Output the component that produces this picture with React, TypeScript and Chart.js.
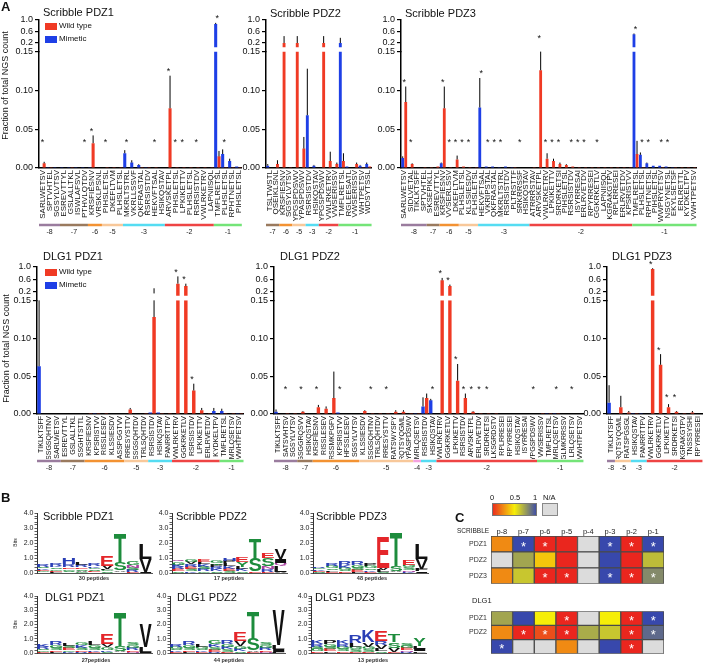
import React, { useEffect, useRef } from 'react';
import { Chart, registerables } from 'chart.js';

Chart.register(...registerables);

const FONT = '"Liberation Sans", Arial, Helvetica, sans-serif';
Chart.defaults.font.family = FONT;
Chart.defaults.color = '#111';

const RED = '#f03a24';
const BLUE = '#1e3fe6';

const GROUP_COLORS: Record<string, string> = {
  '-8': '#9a7c9e', '-7': '#9a7a5e', '-6': '#f39232', '-5': '#f8c89a',
  '-4': '#f4a2e0', '-3': '#55dcf2', '-2': '#ee4444', '-1': '#74e478',
};

const Y_TICKS_LOW = [0, 0.05, 0.1, 0.15];
const Y_TICKS_HIGH = [0.2, 0.6, 1.0];
const LOW_MAX = 0.15;
const HIGH_MIN = -0.1;
const HIGH_BAR_START = 0.05;

// ---------------- Panel A : Scribble PDZ1 ----------------
const SP1_LABELS = ['SARLWETSV','SPTVHTEL','SGSYLVTSV','ESREVTTYL','GSLALLTKL','ISWLAFSVL','PTHVLQTDV','KRSFIESNV','VRSKLPSNL','PIHSLETSL','DKEFLTVM','PLHSLETSL','MKRLTSTRL','VKRLLSSVF','QKFRASTAL','RSRSISTDV','HEKVFTSAL','HSIKQSTAV','ARVSKETPL','PIHSLETSL','LPKIKETTV','PLHSLETSL','RSRSISTDV','VWLRKETRV','LAPNIISQL','TMFLRETSL','PLHSLETSL','RPHTNETSL','PIHSLETSL'];
const SP1_WT = [0.006,0.001,0,0,0.001,0,0,0.032,0,0.001,0.001,0.001,0,0,0.001,0.001,0.001,0,0.077,0.001,0.001,0.001,0.001,0.001,0.001,0.015,0.001,0.001,0.001];
const SP1_WT_ERR = [0.002,0,0,0,0,0,0,0.01,0,0,0,0,0,0,0,0,0,0,0.042,0,0,0,0,0,0,0.007,0,0,0];
const SP1_MIM = [0,0.001,0.001,0.001,0.001,0.001,0.001,0.001,0,0,0,0,0.019,0.007,0.004,0.001,0,0,0,0,0,0,0,0,0,0.86,0.018,0.009,0.002];
const SP1_MIM_ERR = [0,0,0,0,0,0,0,0,0,0,0,0,0.004,0.003,0.001,0,0,0,0,0,0,0,0,0,0,0.04,0.006,0.003,0];
const SP1_STARS = [0,6,7,9,12,16,18,19,20,22,25,26];
const SP1_GROUPS: [string, number, number][] = [['-8',0,2],['-7',3,6],['-6',7,8],['-5',9,11],['-3',12,17],['-2',18,24],['-1',25,28]];

// ---------------- Panel A : Scribble PDZ2 ----------------
const SP2_LABELS = ['TSLTWSTL','QSEIKLSNL','KRSFIESNV','SGSYLVTSV','YPGSPDSWV','YPASPDSWV','RSRSISTDV','HSIKQSTAV','YPGSPDSWV','VWLRKETRV','VWSERISSV','TMFLRETSL','RGLEESATL','VWSERISSV','WHTPETSV','WDSYTSSL'];
const SP2_WT = [0,0.005,0.2,0.001,0.2,0.025,0,0,0.2,0.009,0.005,0.009,0,0.005,0.001,0.002];
const SP2_WT_ERR = [0,0.005,0.24,0,0.24,0.015,0,0,0.24,0.012,0.002,0.01,0,0.002,0,0];
const SP2_MIM = [0.003,0,0,0,0,0,0.068,0.003,0,0,0,0.2,0.002,0,0.003,0.005];
const SP2_MIM_ERR = [0.002,0,0,0,0,0,0.06,0.001,0,0,0,0.18,0,0,0.001,0.002];
const SP2_STARS: number[] = [];
const SP2_GROUPS: [string, number, number][] = [['-7',0,1],['-6',2,3],['-5',4,5],['-3',6,7],['-2',8,10],['-1',11,15]];

// ---------------- Panel A : Scribble PDZ3 ----------------
const SP3_LABELS = ['SARLWETSV','SIDLVETAL','TIKLKTSFF','SPTVHTEL','SKSEPIKLL','ESREVTTYL','KRSFIESNV','VVSERLSSV','DKEFLTVM','PLHSLETSL','KLSSIESDV','PLHSLETSL','HEKVFTSAL','VKRIPSTAL','QKFRASTAL','MKRLTSTRL','RSRSISTDV','PLTRSTTF','SRKRRSSF','HSIKQSTAV','ATRRRSTAV','ARVSKETPL','VWLRKETRV','LPKIKETTV','SRDRKETSI','PIHSLETSL','RSRSISTDV','ISYRRESAI','ERLRVETDV','RPYRRESEI','GGKRKETLV','LAPNIISQL','KGRAKGTPV','RPLRRESEI','ERLRVETDV','KPSRISTVV','TMFLRETSL','PLHSLETSL','RPHTNETSL','PIHSLETSL','WWPRYETSV','NSGYNETSL','EKYLSETSF','ERLRETTL','KYDKELTPV','VWHTPETSV'];
const SP3_WT = [0.085,0.005,0,0.001,0.001,0.002,0.077,0.001,0.011,0.002, 0.001,0.001,0,0,0,0,0,0.001,0,0, 0.001,0.126,0.012,0.009,0.005,0.004,0.002,0.001,0.001,0.001, 0.001,0.001,0.001,0.001,0.001,0.001,0.018,0.001,0,0, 0.001,0,0.001,0.001,0.001,0.001];
const SP3_WT_ERR = [0.02,0.001,0,0,0,0,0.028,0,0.005,0, 0,0,0,0,0,0,0,0,0,0, 0,0.025,0.007,0.003,0.002,0.001,0,0,0,0, 0,0,0,0,0,0,0.017,0,0,0, 0,0,0,0,0,0];
const SP3_MIM = [0.013,0,0,0,0,0,0.006,0,0,0, 0,0,0.078,0.002,0.002,0.001,0.002,0.001,0,0, 0,0,0,0,0,0,0,0,0,0, 0,0,0,0,0,0,0.5,0.017,0.006,0.003, 0.003,0.002,0.001,0,0,0];
const SP3_MIM_ERR = [0.002,0,0,0,0,0,0.001,0,0,0, 0,0,0.038,0,0,0,0,0,0,0, 0,0,0,0,0,0,0,0,0,0, 0,0,0,0,0,0,0.03,0.003,0.001,0, 0,0,0,0,0,0];
const SP3_STARS = [0,1,6,7,8,9,10,12,13,14,15,18,21,22,23,24,26,27,28,30,36,37,38,40,41];
const SP3_GROUPS: [string, number, number][] = [['-8',0,3],['-7',4,5],['-6',6,8],['-5',9,11],['-3',12,19],['-2',20,35],['-1',36,45]];

// ---------------- Panel A : DLG1 PDZ1 ----------------
const DP1_LABELS = ['TIKLKTSFF','SSGSQHTNV','SARLWETSV','ESREVTTYL','GSLALLTKL','SSGHTSTTL','KRSFIESNV','KPSRISTVV','RISSLESEV','KLSSIESDV','ASSPGGTVV','RRESYSTTV','SSGSQHTDV','TRLSQHTDV','RSRSISTDV','HSIKQSTAV','PANRRTTPV','VWLRKETRV','GGKRKETLV','RSRSISTDV','LPKIKETTV','ERLRVETDV','KYDKELTPV','TMFLRETSL','MRLQSETSV','VWHTPETSV'];
const DP1_WT = [0,0,0,0,0,0,0.001,0.001,0.001,0,0,0.006,0,0.001,0.128,0.001,0.001,0.45,0.37,0.031,0.005,0.001,0,0.001,0.001,0.001];
const DP1_WT_ERR = [0,0,0,0,0,0,0,0,0,0,0,0.002,0,0,0.17,0,0,0.24,0.08,0.009,0.003,0,0,0,0,0];
const DP1_MIM = [0.063,0,0,0,0,0,0,0.001,0,0,0,0,0,0,0.002,0.002,0,0,0,0,0,0,0.004,0.004,0,0.001];
const DP1_MIM_ERR = [0.09,0,0,0,0,0,0,0,0,0,0,0,0,0,0,0,0,0,0,0,0,0,0.004,0.003,0,0];
const DP1_STARS = [17,18,19];
const DP1_GROUPS: [string, number, number][] = [['-8',0,2],['-7',3,5],['-6',6,10],['-5',11,13],['-3',14,16],['-2',17,22],['-1',23,25]];

// ---------------- Panel A : DLG1 PDZ2 ----------------
const DP2_LABELS = ['TIKLKTSFF','SATSVHTSV','SGSYLVTSV','GSGGRQSVV','HSIKQSTAV','KRSFIESNV','RISSLESEV','RSSMKPGFV','KPSRISTVV','HFSSLESEV','SGSYLVTSV','KLSSIESDV','SSGSQHTNV','TRLSQHTDV','RRESYSTTV','RATSWYSPY','RQTSYQGML','YPASPDSWV','MRLQSETSV','RSRSISTDV','HSIKQSTAV','VWLRKETRV','GGKRKETLV','LPKIKETTV','RSRSISTDV','ARVSKETPL','ERLRVETDV','SRDRKETSI','LKSGRDSTV','RPLRRESEI','RPYRRESEI','HSIKQSTAV','ISYRRESAI','YPGSPDSWV','VWSERISSV','TMFLRETSL','MRLQSETSV','GLMKRRSSV','LRLQSETSV','VWHTPETSV'];
const DP2_WT = [0,0.001,0.001,0.003,0,0.009,0.007,0.021,0,0, 0,0.004,0.001,0.001,0.001,0.003,0.003,0.001,0.001,0.021, 0,0.56,0.37,0.044,0.021,0.003,0.001,0.001,0.001,0, 0,0,0,0,0.001,0.001,0.001,0,0,0];
const DP2_WT_ERR = [0,0,0,0.001,0,0.003,0.003,0.035,0,0, 0,0.001,0,0,0,0.002,0.002,0,0,0.006, 0,0.08,0.05,0.022,0.006,0.001,0,0,0,0, 0,0,0,0,0,0,0,0,0,0];
const DP2_MIM = [0.003,0,0,0,0,0,0,0,0.002,0, 0,0,0,0,0,0,0,0,0.001,0.01, 0.018,0,0,0,0,0,0,0,0,0, 0,0,0,0,0,0.001,0.001,0,0,0];
const DP2_MIM_ERR = [0.003,0,0,0,0,0,0,0,0,0, 0,0,0,0,0,0,0,0,0,0.012, 0.002,0,0,0,0,0,0,0,0,0, 0,0,0,0,0,0,0,0,0,0];
const DP2_STARS = [1,3,5,8,12,14,20,21,22,23,24,25,26,27,33,36,38];
const DP2_GROUPS: [string, number, number][] = [['-8',0,2],['-7',3,4],['-6',5,10],['-5',11,17],['-4',18,18],['-3',19,20],['-2',21,33],['-1',34,39]];

// ---------------- Panel A : DLG1 PDZ3 ----------------
const DP3_LABELS = ['TIKLKTSFF','RQTSYQGML','RATSPGSGL','HSIKQSTAV','PANRRTTPV','VWLRKETRV','GGKRKETLV','LPKIKETTV','SRDRKETSI','KGRAKGTPV','TNSSSYSHI','RPYRRESEI'];
const DP3_WT = [0,0.009,0.002,0.001,0,0.93,0.065,0.009,0.003,0.001,0.002,0];
const DP3_WT_ERR = [0,0.015,0.002,0,0,0.03,0.014,0.004,0.001,0,0.002,0];
const DP3_MIM = [0.015,0,0,0.001,0.001,0,0,0,0,0,0,0];
const DP3_MIM_ERR = [0.023,0,0,0,0,0,0,0,0,0,0,0];
const DP3_STARS = [5,6,7,8];
const DP3_GROUPS: [string, number, number][] = [['-8',0,0],['-5',1,2],['-3',3,4],['-2',5,11]];

// ---------------- Panel B : sequence logos (p-8 ... p0), bottom -> top ----------------
const LOGO_Y_MAX = 4;
const LOGO_POSITIONS = ['p-8','p-7','p-6','p-5','p-4','p-3','p-2','p-1','p0'];
const LOGO_SP1: [string, number][][] = [
  [['A',0.06],['G',0.08],['E',0.09],['K',0.1],['S',0.1],['R',0.12]],
  [['L',0.07],['E',0.09],['G',0.1],['S',0.12],['K',0.12],['R',0.15]],
  [['L',0.06],['S',0.1],['G',0.12],['E',0.1],['R',0.2],['H',0.45]],
  [['G',0.08],['A',0.08],['S',0.12],['E',0.1],['R',0.14],['L',0.2]],
  [['V',0.06],['E',0.08],['S',0.1],['G',0.1],['K',0.1],['R',0.12]],
  [['S',0.1],['G',0.08],['L',0.1],['V',0.22],['E',0.7]],
  [['E',0.06],['A',0.1],['S',0.53],['T',2.0]],
  [['E',0.08],['R',0.12],['S',0.15],['N',0.2],['G',0.25]],
  [['I',0.1],['V',0.85],['L',1.0]],
];
const LOGO_SP2: [string, number][][] = [
  [['S',0.12],['E',0.12],['R',0.15],['K',0.16],['G',0.2],['Q',0.15]],
  [['K',0.12],['S',0.15],['E',0.15],['R',0.15],['V',0.15],['G',0.18]],
  [['G',0.12],['R',0.15],['S',0.15],['K',0.15],['L',0.15],['E',0.15]],
  [['S',0.12],['K',0.15],['R',0.15],['P',0.13],['T',0.12],['G',0.15]],
  [['S',0.15],['E',0.15],['K',0.15],['L',0.2],['P',0.15],['H',0.2]],
  [['S',0.12],['K',0.15],['L',0.15],['Y',0.3],['E',0.3]],
  [['E',0.1],['S',0.85],['T',1.4]],
  [['E',0.1],['R',0.15],['N',0.2],['S',0.55],['E',0.35]],
  [['A',0.1],['L',0.4],['Q',0.2],['I',0.25],['V',0.7]],
];
const LOGO_SP3: [string, number][][] = [
  [['S',0.08],['E',0.08],['K',0.08],['G',0.1],['R',0.11]],
  [['E',0.08],['L',0.1],['S',0.12],['G',0.14],['R',0.16]],
  [['E',0.1],['S',0.12],['G',0.14],['K',0.16],['R',0.28]],
  [['L',0.1],['E',0.12],['S',0.14],['G',0.16],['R',0.23]],
  [['E',0.1],['K',0.1],['S',0.12],['G',0.13],['P',0.15]],
  [['S',0.1],['L',0.12],['V',0.13],['E',2.0]],
  [['E',0.05],['A',0.05],['S',0.35],['T',2.25]],
  [['K',0.1],['N',0.12],['S',0.15],['G',0.18],['E',0.3]],
  [['I',0.1],['F',0.15],['V',0.7],['L',1.0]],
];
const LOGO_DP1: [string, number][][] = [
  [['E',0.08],['G',0.1],['S',0.12],['R',0.14],['K',0.16]],
  [['L',0.1],['E',0.12],['S',0.16],['G',0.18],['R',0.24]],
  [['K',0.1],['G',0.12],['E',0.14],['S',0.16],['L',0.2]],
  [['R',0.1],['E',0.12],['S',0.16],['K',0.18],['G',0.22]],
  [['E',0.1],['K',0.12],['S',0.16],['G',0.2],['L',0.22]],
  [['S',0.1],['K',0.12],['G',0.18],['V',0.2],['E',0.75]],
  [['E',0.05],['A',0.05],['S',0.4],['T',2.4]],
  [['N',0.08],['E',0.12],['R',0.15],['G',0.18],['S',0.22]],
  [['I',0.1],['L',0.35],['V',1.65]],
];
const LOGO_DP2: [string, number][][] = [
  [['E',0.08],['K',0.1],['S',0.12],['G',0.14],['R',0.18]],
  [['L',0.1],['E',0.12],['S',0.16],['G',0.18],['R',0.24]],
  [['E',0.08],['K',0.1],['S',0.12],['G',0.14],['L',0.16]],
  [['R',0.1],['E',0.14],['S',0.18],['K',0.2],['G',0.26]],
  [['E',0.1],['S',0.15],['K',0.18],['G',0.2],['R',0.22]],
  [['S',0.12],['K',0.15],['G',0.2],['V',0.38],['E',0.6]],
  [['E',0.1],['A',0.1],['S',0.8],['T',1.9]],
  [['N',0.1],['E',0.12],['R',0.15],['G',0.18],['S',0.2]],
  [['F',0.1],['I',0.15],['L',0.3],['V',2.4]],
];
const LOGO_DP3: [string, number][][] = [
  [['E',0.12],['G',0.14],['S',0.16],['R',0.18],['K',0.25]],
  [['L',0.12],['E',0.14],['S',0.16],['G',0.18],['P',0.28]],
  [['E',0.12],['S',0.14],['G',0.16],['R',0.18],['K',0.25]],
  [['E',0.1],['S',0.15],['G',0.2],['L',0.25],['R',0.5]],
  [['E',0.1],['S',0.15],['G',0.2],['V',0.3],['K',0.8]],
  [['S',0.12],['L',0.18],['V',0.25],['R',0.3],['E',0.75]],
  [['E',0.1],['V',0.25],['S',0.4],['T',0.5]],
  [['R',0.1],['N',0.12],['E',0.14],['G',0.16],['S',0.2]],
  [['F',0.12],['I',0.15],['L',0.2],['Y',0.5]],
];
const LOGO_COLORS: Record<string, string> = {
  D: '#e4262a', E: '#e4262a', K: '#2a3fb5', R: '#2a3fb5', H: '#2a3fb5',
  S: '#1d8c3c', T: '#1d8c3c', G: '#1d8c3c', Y: '#1d8c3c', C: '#1d8c3c',
  Q: '#a8409f', N: '#a8409f',
};

// ---------------- Panel C : heatmap ----------------
const HM_COLS = ['p-8','p-7','p-6','p-5','p-4','p-3','p-2','p-1'];
const HM_SCRIB_ROWS = ['PDZ1','PDZ2','PDZ3'];
const HM_SCRIB_VALUES: (number | null)[][] = [
  [0.25, 1, 0, 0, null, 1, 0, 1],
  [null, 0.72, 0.4, 0, null, 1, 0, 0.65],
  [0.25, 0.62, 0, 0, null, 1, 0, 0.8],
];
const HM_SCRIB_STARS = [[0,1],[0,2],[0,5],[0,6],[0,7],[2,2],[2,3],[2,5],[2,6],[2,7]];
const HM_DLG_ROWS = ['PDZ1','PDZ2',''];
const HM_DLG_VALUES: (number | null)[][] = [
  [0.72, 1, 0.5, 0, null, 0.5, 0, 1],
  [0.25, 0, 0.1, 0, 0.7, 0.62, 0, 0.9],
  [1, null, null, 0.25, null, 1, 0, null],
];
const HM_DLG_STARS = [[0,3],[0,6],[0,7],[1,1],[1,2],[1,3],[1,6],[1,7],[2,0],[2,6]];
const HM_SCALE_TICKS = ['0', '0.5', '1'];

function heatColor(v: number | null): string {
  if (v === null || v === undefined) return '#dcdcdc';
  const stops: [number, number[]][] = [[0, [234, 38, 30]], [0.5, [246, 238, 8]], [1, [56, 72, 172]]];
  let a = stops[0], b = stops[1];
  if (v > 0.5) { a = stops[1]; b = stops[2]; }
  const t = (v - a[0]) / (b[0] - a[0]);
  const c = a[1].map((x, i) => Math.round(x + (b[1][i] - x) * t));
  return `rgb(${c[0]},${c[1]},${c[2]})`;
}

// ---------------- chart builders ----------------
function barConfig(p: any, g: any) {
  const lowM = p.mim.map((v: number) => Math.min(v, LOW_MAX));
  const lowW = p.wt.map((v: number) => Math.min(v, LOW_MAX));
  const upM = p.mim.map((v: number) => (v > LOW_MAX ? [HIGH_BAR_START, v] : null));
  const upW = p.wt.map((v: number) => (v > LOW_MAX ? [HIGH_BAR_START, v] : null));
  const common = { borderWidth: 0, barPercentage: 0.92, categoryPercentage: 0.95 };
  const tickFont = { size: 9, family: FONT };
  const yGrid = { display: true, drawOnChartArea: false, drawTicks: true, tickLength: 4, color: '#000', lineWidth: 1.2 };
  const yBorder = { display: true, color: '#000', width: 1.5 };

  const errPlugin = {
    id: 'errBars',
    afterDatasetsDraw(chart: any) {
      const ctx = chart.ctx; const y = chart.scales.y; const y2 = chart.scales.y2;
      ctx.save(); ctx.strokeStyle = '#000'; ctx.lineWidth = 1;
      const series: [number, number[], number[]][] = [[0, p.mim, p.mimErr], [1, p.wt, p.wtErr]];
      series.forEach(([di, vals, errs]) => {
        const meta = chart.getDatasetMeta(di);
        meta.data.forEach((el: any, i: number) => {
          const v = vals[i]; const e = errs[i];
          if (!e) return;
          const t = v + e; const x = el.x;
          ctx.beginPath();
          if (v < LOW_MAX) { ctx.moveTo(x, y.getPixelForValue(v)); ctx.lineTo(x, y.getPixelForValue(Math.min(t, LOW_MAX))); }
          if (t > 0.2) { ctx.moveTo(x, y2.getPixelForValue(Math.max(v, HIGH_BAR_START))); ctx.lineTo(x, y2.getPixelForValue(Math.min(t, 1.0))); }
          ctx.stroke();
        });
      });
      ctx.restore();
    },
  };
  const starPlugin = {
    id: 'stars',
    afterDatasetsDraw(chart: any) {
      const ctx = chart.ctx; const xs = chart.scales.x; const y = chart.scales.y; const y2 = chart.scales.y2;
      ctx.save(); ctx.fillStyle = '#111'; ctx.font = `9px ${FONT}`; ctx.textAlign = 'center'; ctx.textBaseline = 'middle';
      p.stars.forEach((i: number) => {
        const top = Math.max(p.wt[i] + p.wtErr[i], p.mim[i] + p.mimErr[i]);
        let py;
        if (top <= LOW_MAX) py = Math.min(y.getPixelForValue(p.starLevel), y.getPixelForValue(top) - 6);
        else py = y2.getPixelForValue(Math.min(Math.max(top, 0.2), 1.0)) - 6;
        ctx.fillText('*', xs.getPixelForValue(i), py + 2);
      });
      ctx.restore();
    },
  };
  const groupPlugin = {
    id: 'groups',
    afterDraw(chart: any) {
      const ctx = chart.ctx; const xs = chart.scales.x;
      const slot = (xs.right - xs.left) / p.labels.length;
      const yLine = chart.chartArea.bottom + g.groupOffset;
      ctx.save();
      p.groups.forEach(([lab, a, b]: [string, number, number]) => {
        const x0 = xs.getPixelForValue(a) - slot / 2; const x1 = xs.getPixelForValue(b) + slot / 2;
        ctx.strokeStyle = GROUP_COLORS[lab]; ctx.lineWidth = 2.5;
        ctx.beginPath(); ctx.moveTo(x0, yLine); ctx.lineTo(x1, yLine); ctx.stroke();
        ctx.fillStyle = '#222'; ctx.font = `7px ${FONT}`; ctx.textAlign = 'center'; ctx.textBaseline = 'middle';
        ctx.fillText(lab, (x0 + x1) / 2, yLine + 7);
      });
      ctx.restore();
    },
  };

  return {
    type: 'bar',
    data: {
      labels: p.labels,
      datasets: [
        { ...common, label: 'Mimetic', data: lowM, backgroundColor: BLUE, yAxisID: 'y', stack: 'm' },
        { ...common, label: 'Wild type', data: lowW, backgroundColor: RED, yAxisID: 'y', stack: 'w' },
        { ...common, label: 'Mimetic (upper)', data: upM, backgroundColor: BLUE, yAxisID: 'y2', stack: 'm' },
        { ...common, label: 'Wild type (upper)', data: upW, backgroundColor: RED, yAxisID: 'y2', stack: 'w' },
      ],
    },
    options: {
      responsive: false,
      animation: false,
      layout: { padding: { left: 0, top: g.padTop, right: g.padRight, bottom: g.padBottom } },
      plugins: { legend: { display: false }, tooltip: { enabled: false } },
      scales: {
        x: {
          type: 'category', offset: true,
          grid: { display: false, drawTicks: false },
          border: { display: true, color: '#000', width: 1.5 },
          ticks: { autoSkip: false, minRotation: 90, maxRotation: 90, padding: 2, font: { size: g.labelSize, family: FONT }, color: '#111' },
          afterFit: (s: any) => { s.height = g.xHeight; },
        },
        y: {
          type: 'linear', position: 'left', stack: 'v', stackWeight: g.lowWeight, min: 0, max: LOW_MAX, stacked: false,
          afterBuildTicks: (s: any) => { s.ticks = Y_TICKS_LOW.map((v) => ({ value: v })); },
          afterFit: (s: any) => { s.width = g.yWidth; },
          ticks: { autoSkip: false, font: tickFont, color: '#111', padding: 2, callback: (v: any) => Number(v).toFixed(2) },
          grid: yGrid, border: yBorder,
        },
        y2: {
          type: 'linear', position: 'left', stack: 'v', stackWeight: 1, min: HIGH_MIN, max: 1.0, stacked: false,
          afterBuildTicks: (s: any) => { s.ticks = Y_TICKS_HIGH.map((v) => ({ value: v })); },
          afterFit: (s: any) => { s.width = g.yWidth; },
          ticks: { autoSkip: false, font: tickFont, color: '#111', padding: 2, callback: (v: any) => Number(v).toFixed(1) },
          grid: yGrid, border: yBorder,
        },
      },
    },
    plugins: [errPlugin, starPlugin, groupPlugin],
  };
}

const logoPlugin = {
  id: 'logoLetters',
  afterDatasetsDraw(chart: any) {
    const ctx = chart.ctx;
    chart.data.datasets.forEach((ds: any, di: number) => {
      const meta = chart.getDatasetMeta(di);
      meta.data.forEach((el: any, i: number) => {
        const letter = ds.letters[i];
        if (!letter) return;
        const pr = el.getProps(['x', 'y', 'base', 'width'], true);
        const h = pr.base - pr.y;
        if (h < 0.4) return;
        const left = pr.x - pr.width / 2;
        ctx.save();
        ctx.font = `bold 100px ${FONT}`;
        const m = ctx.measureText(letter);
        const gw = m.actualBoundingBoxLeft + m.actualBoundingBoxRight;
        const gh = m.actualBoundingBoxAscent + m.actualBoundingBoxDescent;
        ctx.translate(left, pr.base);
        ctx.scale(pr.width / gw, h / gh);
        ctx.fillStyle = LOGO_COLORS[letter] || '#111';
        ctx.textAlign = 'left'; ctx.textBaseline = 'alphabetic';
        ctx.fillText(letter, m.actualBoundingBoxLeft, -m.actualBoundingBoxDescent);
        ctx.restore();
      });
    });
  },
};

function logoConfig(cols: [string, number][][], padTop: number, padBottom: number) {
  const n = Math.max(...cols.map((c) => c.length));
  const datasets: any[] = [];
  for (let r = 0; r < n; r++) {
    datasets.push({
      label: 'rank ' + r,
      data: cols.map((c) => (c[r] ? c[r][1] : 0)),
      letters: cols.map((c) => (c[r] ? c[r][0] : '')),
      backgroundColor: 'rgba(0,0,0,0)', borderWidth: 0, barPercentage: 0.96, categoryPercentage: 1,
    });
  }
  return {
    type: 'bar',
    data: { labels: LOGO_POSITIONS, datasets },
    options: {
      responsive: false, animation: false,
      layout: { padding: { left: 0, right: 4, top: padTop, bottom: padBottom } },
      plugins: { legend: { display: false }, tooltip: { enabled: false } },
      scales: {
        x: { stacked: true, grid: { display: false, drawTicks: false }, ticks: { display: false }, border: { display: true, color: '#555' }, afterFit: (s: any) => { s.height = 0; } },
        y: {
          stacked: true, min: 0, max: LOGO_Y_MAX,
          ticks: { stepSize: 0.2, autoSkip: false, font: { size: 7, family: FONT }, color: '#222', padding: 1,
            callback: (v: any) => (Math.abs(v - Math.round(v)) < 1e-6 ? Number(v).toFixed(1) : '') },
          grid: { display: true, drawOnChartArea: false, drawTicks: true, tickLength: 2.5, color: '#333', lineWidth: 0.8 },
          border: { display: true, color: '#333', width: 1 },
          afterFit: (s: any) => { s.width = 25; },
        },
      },
    },
    plugins: [logoPlugin],
  };
}

function heatConfig(rows: string[], vals: (number | null)[][], stars: number[][], header: boolean, padTop: number, padBottom: number) {
  const starPlugin = {
    id: 'heatStars',
    afterDatasetsDraw(chart: any) {
      const ctx = chart.ctx;
      ctx.save(); ctx.fillStyle = '#fff'; ctx.font = `13px ${FONT}`; ctx.textAlign = 'center'; ctx.textBaseline = 'middle';
      stars.forEach(([r, c]) => {
        const el = chart.getDatasetMeta(c).data[r];
        ctx.fillText('*', (el.x + el.base) / 2, el.y + 3);
      });
      ctx.restore();
    },
  };
  const scales: any = {
    x: { type: 'linear', stacked: true, min: 0, max: HM_COLS.length, display: false },
    y: {
      type: 'category', stacked: true, offset: true,
      grid: { display: false, drawTicks: false }, border: { display: false },
      ticks: { font: { size: 7, family: FONT }, color: '#333', padding: 4 },
      afterFit: (s: any) => { s.width = 36; },
    },
  };
  if (header) {
    scales.xh = {
      type: 'category', labels: HM_COLS, position: 'top', offset: true,
      grid: { display: false, drawTicks: false }, border: { display: false },
      ticks: { font: { size: 7.5, family: FONT }, color: '#222', padding: 0, maxRotation: 0, autoSkip: false },
      afterFit: (s: any) => { s.height = 11; },
    };
  }
  return {
    type: 'bar',
    data: {
      labels: rows,
      datasets: HM_COLS.map((c, ci) => ({
        label: c,
        data: rows.map(() => 1),
        backgroundColor: rows.map((_, ri) => heatColor(vals[ri][ci])),
        borderColor: '#4a4a4a', borderWidth: 1, borderSkipped: false,
        barPercentage: 1, categoryPercentage: 1,
      })),
    },
    options: {
      indexAxis: 'y', responsive: false, animation: false,
      layout: { padding: { left: 0, right: 6, top: padTop, bottom: padBottom } },
      plugins: { legend: { display: false }, tooltip: { enabled: false } },
      scales,
    },
    plugins: [starPlugin],
  };
}

// ---------------- components ----------------
function ChartCanvas({ left, top, width, height, make }: any) {
  const ref = useRef<HTMLCanvasElement>(null);
  useEffect(() => {
    const chart = new Chart(ref.current as HTMLCanvasElement, make());
    return () => chart.destroy();
  }, []);
  return (
    <div style={{ position: 'absolute', left, top, width, height }}>
      <canvas ref={ref} width={width} height={height} style={{ width, height, display: 'block' }} />
    </div>
  );
}

function Txt({ x, y, size, bold, children, color, align, w }: any) {
  const style: any = { position: 'absolute', left: x, top: y, fontSize: size, lineHeight: 1, whiteSpace: 'nowrap', fontWeight: bold ? 'bold' : 'normal', color: color || '#111' };
  if (align === 'center') { style.width = w; style.marginLeft = -w / 2; style.textAlign = 'center'; }
  return <div style={style}>{children}</div>;
}

function VTxt({ cx, cy, size, children, len }: any) {
  return (
    <div style={{ position: 'absolute', left: cx - len / 2, top: cy - size / 2, width: len, height: size, fontSize: size, lineHeight: 1, textAlign: 'center', whiteSpace: 'nowrap', transform: 'rotate(-90deg)', transformOrigin: 'center center', color: '#111' }}>{children}</div>
  );
}

function Legend({ top }: { top: number }) {
  return (
    <>
      <div style={{ position: 'absolute', left: 45, top: top + 1, width: 12, height: 7, background: RED }} />
      <Txt x={59} y={top} size={8}>Wild type</Txt>
      <div style={{ position: 'absolute', left: 45, top: top + 13.5, width: 12, height: 7, background: BLUE }} />
      <Txt x={59} y={top + 12.5} size={8}>Mimetic</Txt>
    </>
  );
}

const TOP = { padTop: 20, padBottom: 19, xHeight: 55, groupOffset: 57, labelSize: 8, lowWeight: 3.68 };
const BOT = { padTop: 20, padBottom: 21, xHeight: 45, groupOffset: 47, labelSize: 7, lowWeight: 3.41 };

const SP1 = { labels: SP1_LABELS, wt: SP1_WT, wtErr: SP1_WT_ERR, mim: SP1_MIM, mimErr: SP1_MIM_ERR, stars: SP1_STARS, groups: SP1_GROUPS, starLevel: 0.035 };
const SP2 = { labels: SP2_LABELS, wt: SP2_WT, wtErr: SP2_WT_ERR, mim: SP2_MIM, mimErr: SP2_MIM_ERR, stars: SP2_STARS, groups: SP2_GROUPS, starLevel: 0.035 };
const SP3 = { labels: SP3_LABELS, wt: SP3_WT, wtErr: SP3_WT_ERR, mim: SP3_MIM, mimErr: SP3_MIM_ERR, stars: SP3_STARS, groups: SP3_GROUPS, starLevel: 0.035 };
const DP1 = { labels: DP1_LABELS, wt: DP1_WT, wtErr: DP1_WT_ERR, mim: DP1_MIM, mimErr: DP1_MIM_ERR, stars: DP1_STARS, groups: DP1_GROUPS, starLevel: 0.035 };
const DP2 = { labels: DP2_LABELS, wt: DP2_WT, wtErr: DP2_WT_ERR, mim: DP2_MIM, mimErr: DP2_MIM_ERR, stars: DP2_STARS, groups: DP2_GROUPS, starLevel: 0.035 };
const DP3 = { labels: DP3_LABELS, wt: DP3_WT, wtErr: DP3_WT_ERR, mim: DP3_MIM, mimErr: DP3_MIM_ERR, stars: DP3_STARS, groups: DP3_GROUPS, starLevel: 0.025 };

export default function App() {
  return (
    <div style={{ position: 'absolute', left: 0, top: 0, width: 709, height: 664, background: '#fff', fontFamily: FONT, color: '#111', overflow: 'hidden' }}>
      {/* Panel A, top row */}
      <ChartCanvas left={0} top={0} width={250} height={242} make={() => barConfig(SP1, { ...TOP, yWidth: 39, padRight: 5 })} />
      <ChartCanvas left={240} top={0} width={140} height={242} make={() => barConfig(SP2, { ...TOP, yWidth: 26, padRight: 4 })} />
      <ChartCanvas left={375} top={0} width={330} height={242} make={() => barConfig(SP3, { ...TOP, yWidth: 26, padRight: 7 })} />
      {/* Panel A, bottom row */}
      <ChartCanvas left={0} top={247} width={250} height={233} make={() => barConfig(DP1, { ...BOT, yWidth: 37, padRight: 3 })} />
      <ChartCanvas left={248} top={247} width={342} height={233} make={() => barConfig(DP2, { ...BOT, yWidth: 26, padRight: 3 })} />
      <ChartCanvas left={580} top={247} width={129} height={233} make={() => barConfig(DP3, { ...BOT, yWidth: 27, padRight: 3 })} />

      <Txt x={1} y={0} size={13} bold>A</Txt>
      <Txt x={43} y={7} size={11}>Scribble PDZ1</Txt>
      <Txt x={270} y={8} size={11}>Scribble PDZ2</Txt>
      <Txt x={405} y={8} size={11}>Scribble PDZ3</Txt>
      <Txt x={43} y={251} size={11}>DLG1 PDZ1</Txt>
      <Txt x={280} y={251} size={11}>DLG1 PDZ2</Txt>
      <Txt x={612} y={251} size={11}>DLG1 PDZ3</Txt>
      <Legend top={22} />
      <Legend top={268} />
      <VTxt cx={5} cy={85} size={9} len={130}>Fraction of total NGS count</VTxt>
      <VTxt cx={6} cy={348} size={9} len={130}>Fraction of total NGS count</VTxt>

      {/* Panel B */}
      <Txt x={1} y={491} size={13} bold>B</Txt>
      <ChartCanvas left={12} top={505} width={144} height={80} make={() => logoConfig(LOGO_SP1, 8, 12)} />
      <ChartCanvas left={147} top={505} width={144} height={80} make={() => logoConfig(LOGO_SP2, 8, 12)} />
      <ChartCanvas left={288} top={505} width={144} height={80} make={() => logoConfig(LOGO_SP3, 8, 12)} />
      <ChartCanvas left={12} top={588} width={144} height={80} make={() => logoConfig(LOGO_DP1, 8, 15)} />
      <ChartCanvas left={145} top={588} width={144} height={80} make={() => logoConfig(LOGO_DP2, 8, 15)} />
      <ChartCanvas left={286} top={588} width={144} height={80} make={() => logoConfig(LOGO_DP3, 8, 15)} />
      <Txt x={43} y={511} size={11}>Scribble PDZ1</Txt>
      <Txt x={176} y={511} size={11}>Scribble PDZ2</Txt>
      <Txt x={316} y={511} size={11}>Scribble PDZ3</Txt>
      <Txt x={45} y={592} size={11}>DLG1 PDZ1</Txt>
      <Txt x={177} y={592} size={11}>DLG1 PDZ2</Txt>
      <Txt x={315} y={592} size={11}>DLG1 PDZ3</Txt>
      <Txt x={94} y={576} size={5.5} bold align="center" w={60} color="#333">30 peptides</Txt>
      <Txt x={229} y={576} size={5.5} bold align="center" w={60} color="#333">17 peptides</Txt>
      <Txt x={372} y={576} size={5.5} bold align="center" w={60} color="#333">48 peptides</Txt>
      <Txt x={96} y={658} size={5.5} bold align="center" w={60} color="#333">27peptides</Txt>
      <Txt x={229} y={658} size={5.5} bold align="center" w={60} color="#333">44 peptides</Txt>
      <Txt x={373} y={658} size={5.5} bold align="center" w={60} color="#333">13 peptides</Txt>
      <VTxt cx={15} cy={542} size={5} len={20}>Bits</VTxt>
      <VTxt cx={15} cy={624} size={5} len={20}>Bits</VTxt>

      {/* Panel C */}
      <Txt x={455} y={511} size={13} bold>C</Txt>
      <Txt x={492} y={494} size={7.5} align="center" w={20}>{HM_SCALE_TICKS[0]}</Txt>
      <Txt x={515} y={494} size={7.5} align="center" w={20}>{HM_SCALE_TICKS[1]}</Txt>
      <Txt x={535} y={494} size={7.5} align="center" w={20}>{HM_SCALE_TICKS[2]}</Txt>
      <div style={{ position: 'absolute', left: 492, top: 503, width: 45, height: 13, background: `linear-gradient(to right, ${heatColor(0)}, ${heatColor(0.5)}, ${heatColor(1)})`, boxShadow: 'inset 0 0 0 1px #777' }} />
      <Txt x={543} y={494} size={7.5}>N/A</Txt>
      <div style={{ position: 'absolute', left: 542, top: 503, width: 16, height: 13, background: '#dcdcdc', boxShadow: 'inset 0 0 0 1px #888' }} />
      <ChartCanvas left={455} top={522} width={215} height={70} make={() => heatConfig(HM_SCRIB_ROWS, HM_SCRIB_VALUES, HM_SCRIB_STARS, true, 3, 3)} />
      <ChartCanvas left={455} top={603} width={215} height={59} make={() => heatConfig(HM_DLG_ROWS, HM_DLG_VALUES, HM_DLG_STARS, false, 4, 4)} />
      <Txt x={457} y={528} size={6.5} color="#222">SCRIBBLE</Txt>
      <Txt x={472} y={597} size={7.5} color="#222">DLG1</Txt>
    </div>
  );
}
